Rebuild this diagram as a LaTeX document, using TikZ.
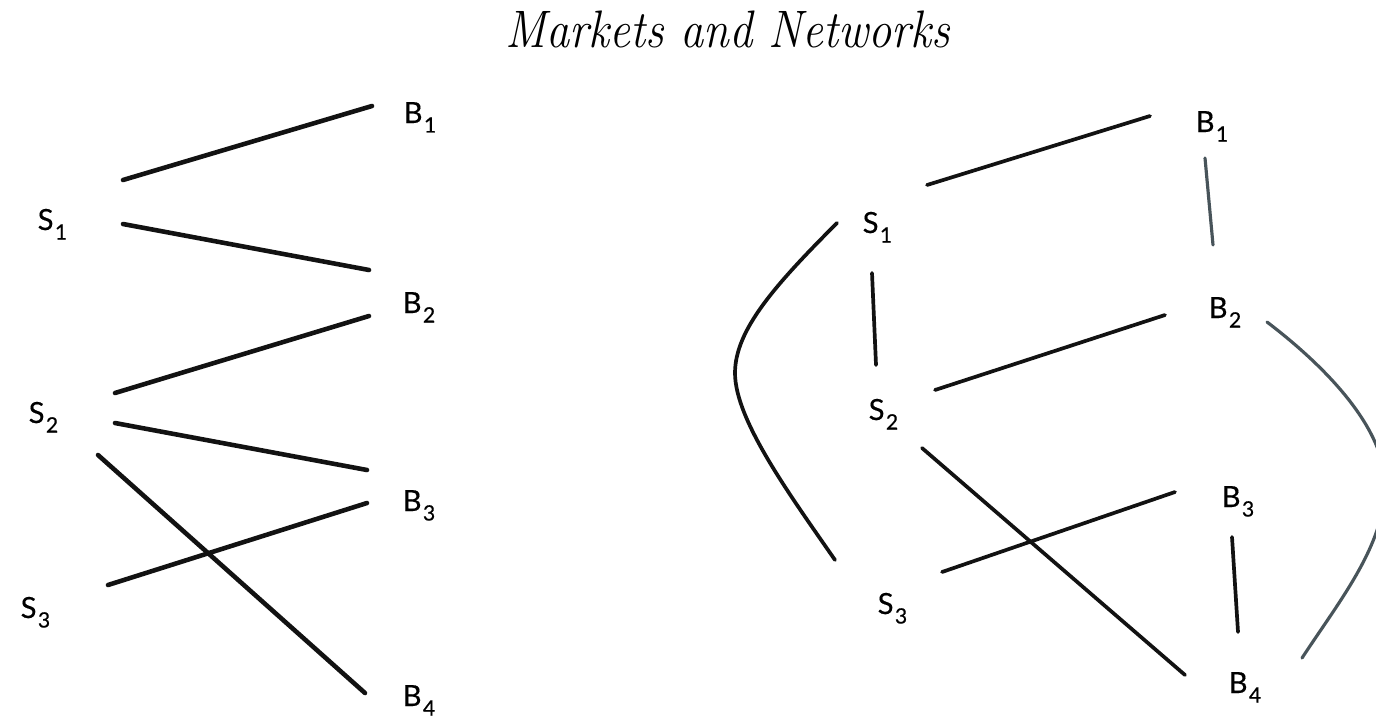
\documentclass[tikz,border=0pt]{standalone}
\usepackage{fontspec}
\newfontfamily\labfont{Lato}[FakeBold=0.4]
\definecolor{ink}{RGB}{18,18,18}
\definecolor{slate}{RGB}{72,84,90}
\newcommand\lbl[2]{#1\kern0.4pt\raisebox{-2.7pt}{\fontsize{6}{6}\selectfont #2}}
\begin{document}
\begin{tikzpicture}[x=0.01cm,y=-0.01cm,
  lab/.style={font=\labfont\fontsize{8.3}{10}\selectfont, inner sep=0pt, anchor=base west},
  titlestyle/.style={font=\fontsize{15}{18}\selectfont\itshape, inner sep=0pt, anchor=base},
  thickedge/.style={draw=ink, line width=1.3pt, line cap=round},
  thinedge/.style={draw=ink, line width=1.05pt, line cap=round},
  greyedge/.style={draw=slate, line width=0.9pt, line cap=round}]
\useasboundingbox (0,0) rectangle (1376,724);
\fill[white] (0,0) rectangle (1376,724);

% title
\node[titlestyle] (title) at (728,47) {\scalebox{0.88}[1]{Markets and Networks}};

% ---------- left graph ----------
\node[lab] (lB1) at (403,123) {\lbl{B}{1}};
\node[lab] (lS1) at (37,230) {\lbl{S}{1}};
\node[lab] (lB2) at (402,313) {\lbl{B}{2}};
\node[lab] (lS2) at (28,423) {\lbl{S}{2}};
\node[lab] (lB3) at (402,511) {\lbl{B}{3}};
\node[lab] (lS3) at (20,618) {\lbl{S}{3}};
\node[lab] (lB4) at (402,706) {\lbl{B}{4}};

\coordinate (lS1a) at (123,180); \coordinate (lB1a) at (372,106);
\coordinate (lS1b) at (123,224); \coordinate (lB2a) at (369,270);
\coordinate (lS2a) at (115,393); \coordinate (lB2b) at (369,316);
\coordinate (lS2b) at (115,423); \coordinate (lB3a) at (367,470);
\coordinate (lS2c) at (98,455);  \coordinate (lB4a) at (365,693);
\coordinate (lS3a) at (108,585); \coordinate (lB3b) at (367,503);

\draw[thickedge] (lS1a) -- (lB1a);
\draw[thickedge] (lS1b) -- (lB2a);
\draw[thickedge] (lS2a) -- (lB2b);
\draw[thickedge] (lS2b) -- (lB3a);
\draw[thickedge] (lS2c) -- (lB4a);
\draw[thickedge] (lS3a) -- (lB3b);

% ---------- right graph ----------
\node[lab] (rB1) at (1195,132) {\lbl{B}{1}};
\node[lab] (rS1) at (862,233) {\lbl{S}{1}};
\node[lab] (rB2) at (1208,318) {\lbl{B}{2}};
\node[lab] (rS2) at (868,420) {\lbl{S}{2}};
\node[lab] (rB3) at (1221,507) {\lbl{B}{3}};
\node[lab] (rS3) at (877,614) {\lbl{S}{3}};
\node[lab] (rB4) at (1228,693) {\lbl{B}{4}};

\coordinate (rS1a) at (927,185);  \coordinate (rB1a) at (1150,116);
\coordinate (rB1b) at (1205,158); \coordinate (rB2a) at (1213,245);
\coordinate (rS1b) at (872,273);  \coordinate (rS2a) at (876,365);
\coordinate (rS2b) at (935,390);  \coordinate (rB2b) at (1165,315);
\coordinate (rS2c) at (922,448);  \coordinate (rB4a) at (1185,675);
\coordinate (rS3a) at (942,572);  \coordinate (rB3a) at (1175,492);
\coordinate (rB3b) at (1232,537); \coordinate (rB4b) at (1238,632);
\coordinate (rS1c) at (837,223);  \coordinate (rS3b) at (835,560);
\coordinate (rB2c) at (1267,322); \coordinate (rB4c) at (1302,658);

\draw[thinedge] (rS1a) -- (rB1a);
\draw[greyedge] (rB1b) -- (rB2a);
\draw[thinedge] (rS1b) -- (rS2a);
\draw[thinedge] (rS2b) -- (rB2b);
\draw[thinedge] (rS2c) -- (rB4a);
\draw[thinedge] (rS3a) -- (rB3a);
\draw[thinedge] (rB3b) -- (rB4b);
\draw[thinedge] (rS1c) .. controls (775,285) and (735,330) .. (735,373)
                       .. controls (735,420) and (790,495) .. (rS3b);
\begin{scope}
\clip (0,0) rectangle (1376,724);
\draw[greyedge] (rB2c) .. controls (1330,370) and (1385,430) .. (1385,485)
                       .. controls (1385,545) and (1340,600) .. (rB4c);
\end{scope}
\end{tikzpicture}
\end{document}
